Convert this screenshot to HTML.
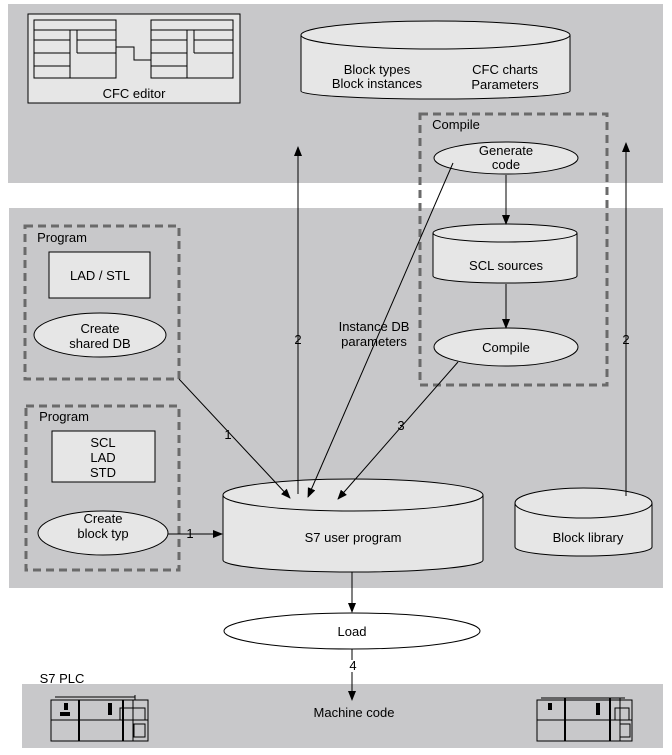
<!DOCTYPE html>
<html><head><meta charset="utf-8"><style>
body{margin:0;background:#fff}
svg{display:block;font-family:"Liberation Sans",sans-serif}
</style></head><body>
<svg width="672" height="755" viewBox="0 0 672 755" xmlns="http://www.w3.org/2000/svg">
<defs><marker id="a" markerWidth="10" markerHeight="8" refX="9" refY="4" orient="auto" markerUnits="userSpaceOnUse"><path d="M0,0 L10,4 L0,8 z" fill="#000"/></marker></defs>
<rect x="8" y="4" width="655" height="179" fill="#c8c8ca"/>
<rect x="9" y="208" width="654" height="380" fill="#c8c8ca"/>
<rect x="22" y="684" width="641" height="64" fill="#c8c8ca"/>
<g stroke="#000" fill="none" stroke-width="1">
<rect x="28" y="14" width="212" height="89" fill="#e6e6e6"/>
<rect x="34" y="20" width="82" height="58"/><line x1="34" y1="30" x2="116" y2="30"/><line x1="34" y1="40" x2="70" y2="40"/><line x1="34" y1="53" x2="70" y2="53"/><line x1="34" y1="66" x2="70" y2="66"/><line x1="70" y1="30" x2="70" y2="78"/><line x1="77" y1="30" x2="77" y2="53"/><line x1="77" y1="40" x2="116" y2="40"/><line x1="77" y1="53" x2="116" y2="53"/>
<rect x="151" y="20" width="82" height="58"/><line x1="151" y1="30" x2="233" y2="30"/><line x1="151" y1="40" x2="187" y2="40"/><line x1="151" y1="53" x2="187" y2="53"/><line x1="151" y1="66" x2="187" y2="66"/><line x1="187" y1="30" x2="187" y2="78"/><line x1="194" y1="30" x2="194" y2="53"/><line x1="194" y1="40" x2="233" y2="40"/><line x1="194" y1="53" x2="233" y2="53"/>
<polyline points="116,47 134,47 134,60 151,60"/>
<!-- DB cylinder -->
<path d="M301,35 V91 A134.5,8 0 0 0 570,91 V35" fill="#e6e6e6"/>
<ellipse cx="435.5" cy="35" rx="134.5" ry="14" fill="#e6e6e6"/>
<!-- dashed -->
<rect x="420" y="114" width="187" height="271" stroke="#6a6a6a" stroke-width="3" stroke-dasharray="8,5"/>
<rect x="25" y="226" width="154" height="153" stroke="#6a6a6a" stroke-width="3" stroke-dasharray="8,5"/>
<rect x="26" y="406" width="153" height="164" stroke="#6a6a6a" stroke-width="3" stroke-dasharray="8,5"/>
<ellipse cx="506" cy="158" rx="72" ry="16" fill="#e6e6e6"/>
<path d="M433,233 V276 A72,7 0 0 0 577,276 V233" fill="#e6e6e6"/>
<ellipse cx="505" cy="233" rx="72" ry="9" fill="#e6e6e6"/>
<ellipse cx="506" cy="347" rx="72" ry="19" fill="#e6e6e6"/>
<rect x="49" y="252" width="101" height="46" fill="#e6e6e6"/>
<ellipse cx="100" cy="335" rx="66" ry="22" fill="#e6e6e6"/>
<rect x="52" y="431" width="103" height="51" fill="#e6e6e6"/>
<ellipse cx="103" cy="533" rx="65" ry="22" fill="#e6e6e6"/>
<path d="M223,495 V560 A130,12 0 0 0 483,560 V495" fill="#e6e6e6"/>
<ellipse cx="353" cy="495" rx="130" ry="16" fill="#e6e6e6"/>
<path d="M515,503 V547 A68.5,9 0 0 0 652,547 V503" fill="#e6e6e6"/>
<ellipse cx="583.5" cy="503" rx="68.5" ry="15" fill="#e6e6e6"/>
<ellipse cx="352" cy="631" rx="128" ry="18" fill="#fff"/>
<!-- arrows -->
<line x1="298" y1="494" x2="298" y2="147" marker-end="url(#a)"/>
<line x1="626" y1="496" x2="626" y2="143" marker-end="url(#a)"/>
<line x1="453" y1="163" x2="308" y2="497" marker-end="url(#a)"/>
<line x1="179" y1="379" x2="290" y2="498" marker-end="url(#a)"/>
<line x1="458" y1="362" x2="338" y2="499" marker-end="url(#a)"/>
<line x1="168" y1="534" x2="222" y2="534" marker-end="url(#a)"/>
<line x1="506" y1="175" x2="506" y2="224" marker-end="url(#a)"/>
<line x1="506" y1="284" x2="506" y2="328" marker-end="url(#a)"/>
<line x1="352" y1="572" x2="352" y2="612" marker-end="url(#a)"/>
<line x1="352" y1="672" x2="352" y2="700" marker-end="url(#a)"/>
<line x1="352" y1="649" x2="352" y2="660"/>
<!-- PLC icons -->
<g stroke-width="1">
<line x1="55" y1="697" x2="135" y2="697"/><line x1="135" y1="695" x2="135" y2="700"/>
<rect x="51" y="700" width="97" height="41"/><line x1="51" y1="720" x2="148" y2="720"/>
<line x1="79" y1="700" x2="79" y2="741" stroke-width="2"/><line x1="123" y1="700" x2="123" y2="741" stroke-width="2"/><line x1="133" y1="700" x2="133" y2="741"/>
<rect x="120" y="708" width="25" height="12"/><rect x="134" y="724" width="11" height="13"/>
<line x1="541" y1="698" x2="625" y2="698"/>
<rect x="537" y="700" width="95" height="41"/><line x1="537" y1="720" x2="632" y2="720"/>
<line x1="565" y1="698" x2="565" y2="741" stroke-width="2"/><line x1="610" y1="698" x2="610" y2="741" stroke-width="2"/><line x1="620" y1="698" x2="620" y2="741"/>
<rect x="615" y="708" width="14" height="12"/><rect x="620" y="724" width="10" height="13"/>
</g>
</g>
<g fill="#000">
<rect x="64" y="703" width="4" height="7"/><rect x="60" y="712" width="10" height="4"/><rect x="108" y="703" width="4" height="12"/>
<rect x="548" y="703" width="4" height="7"/><rect x="596" y="703" width="4" height="12"/>
</g>
<g font-size="13" text-anchor="middle" fill="#000">
<text x="134" y="98">CFC editor</text>
<text x="377" y="74">Block types</text><text x="377" y="88">Block instances</text>
<text x="505" y="74">CFC charts</text><text x="505" y="89">Parameters</text>
<text x="456" y="129">Compile</text>
<text x="506" y="155">Generate</text><text x="506" y="169">code</text>
<text x="506" y="270">SCL sources</text>
<text x="506" y="352">Compile</text>
<text x="374" y="331">Instance DB</text><text x="374" y="346">parameters</text>
<text x="62" y="242">Program</text>
<text x="100" y="280">LAD / STL</text>
<text x="100" y="333">Create</text><text x="100" y="348">shared DB</text>
<text x="64" y="421">Program</text>
<text x="103" y="447">SCL</text><text x="103" y="462">LAD</text><text x="103" y="477">STD</text>
<text x="103" y="523">Create</text><text x="103" y="538">block typ</text>
<text x="353" y="542">S7 user program</text>
<text x="588" y="542">Block library</text>
<text x="352" y="636">Load</text>
<text x="354" y="717">Machine code</text>
<text x="62" y="683">S7 PLC</text>
<text x="298" y="344">2</text><text x="626" y="344">2</text>
<text x="228" y="439">1</text><text x="401" y="430">3</text><text x="190" y="538">1</text><text x="353" y="670">4</text>
</g>
</svg>
</body></html>
